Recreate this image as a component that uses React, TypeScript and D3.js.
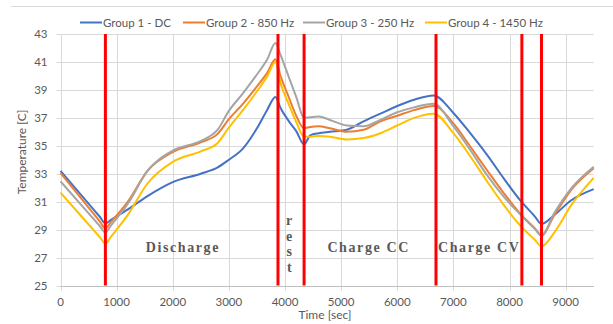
import React from "react";
import * as d3 from "d3";

// ---- data ----
const timeKnots = [0, 400, 700, 800, 900, 1200, 1550, 2000, 2500, 2800, 3000, 3250, 3500, 3680, 3830, 3920, 4070, 4200, 4340, 4450, 4600, 4800, 5100, 5400, 5700, 6000, 6300, 6650, 7000, 7300, 7600, 7900, 8200, 8450, 8570, 8800, 9100, 9500];

const group1DC = [33.2, 31.33, 29.92, 29.45, 29.7, 30.45, 31.4, 32.4, 33.0, 33.45, 34.0, 34.8, 36.25, 37.55, 38.5, 37.7, 36.75, 36.05, 35.1, 35.75, 35.9, 36.0, 36.15, 36.75, 37.3, 37.85, 38.3, 38.6, 37.35, 35.9, 34.35, 32.65, 31.05, 29.95, 29.4, 30.05, 31.1, 31.9];
const group2Hz850 = [33.05, 31.08, 29.59, 29.1, 29.55, 31.0, 33.2, 34.55, 35.25, 35.85, 36.9, 38.0, 39.25, 40.2, 41.2, 40.0, 38.45, 37.15, 36.25, 36.35, 36.4, 36.25, 36.0, 36.15, 36.75, 37.15, 37.55, 37.85, 36.6, 34.95, 33.25, 31.6, 30.1, 29.1, 28.6, 30.05, 31.85, 33.4];
const group3Hz250 = [32.45, 30.63, 29.26, 28.8, 29.3, 30.85, 33.2, 34.65, 35.35, 36.15, 37.5, 38.75, 40.1, 41.15, 42.35, 41.5, 39.9, 38.5, 37.0, 37.05, 37.1, 36.85, 36.45, 36.4, 36.85, 37.4, 37.75, 38.0, 36.4, 34.7, 32.9, 31.35, 30.05, 29.05, 28.55, 30.2, 31.95, 33.5];
const group4Hz1450 = [31.65, 29.83, 28.46, 28.0, 28.5, 30.05, 32.3, 33.85, 34.6, 35.2, 36.3, 37.55, 38.9, 39.95, 41.0, 39.5, 37.95, 36.7, 35.65, 35.65, 35.7, 35.65, 35.45, 35.55, 35.9, 36.45, 37.0, 37.3, 35.9, 34.25, 32.45, 30.75, 29.25, 28.27, 27.8, 28.8, 30.75, 32.7];

const seriesNames = ["Group 1 - DC", "Group 2 - 850 Hz", "Group 3 - 250 Hz", "Group 4 - 1450 Hz"];
const seriesValues = [group1DC, group2Hz850, group3Hz250, group4Hz1450];
const seriesColors = ["#4472C4", "#ED7D31", "#A5A5A5", "#FFC000"];

const phaseBoundaries = [800, 3875, 4340, 6690, 8220, 8570];
const phaseLabels = ["Discharge", "Charge CC", "Charge CV"];
const phaseLabelTimes = [2180, 5490, 7460];
const phaseLabelTemp = 27.4;
const restLetters = ["r", "e", "s", "t"];
const restTime = 4075;

const xTicks = [0, 1000, 2000, 3000, 4000, 5000, 6000, 7000, 8000, 9000];
const yTicks = [25, 27, 29, 31, 33, 35, 37, 39, 41, 43];

const W = 613;
const H = 324;

export default function App() {
  const x = d3.scaleLinear().domain([0, 9500]).range([60.5, 593.7]);
  const y = d3.scaleLinear().domain([25, 43]).range([285.5, 34]);

  const line = d3
    .line<number>()
    .x((_, i) => x(timeKnots[i]))
    .y((d) => y(d))
    .curve(d3.curveMonotoneX);

  const textColor = "#595959";
  const sans = "Lato, 'Open Sans', sans-serif";
  const serif = "'Liberation Serif', 'DejaVu Serif', serif";

  const legendX = [80, 183, 303, 425];

  return (
    <svg
      width={W}
      height={H}
      style={{ position: "absolute", left: 0, top: 0, background: "#fff" }}
    >
      <rect x={0} y={0} width={W} height={H} fill="#fff" />
      <line x1={11} x2={W} y1={6.5} y2={6.5} stroke="#d9d9d9" strokeWidth={1} />

      {/* gridlines */}
      {yTicks.map((t) => (
        <line key={"gy" + t} x1={x(0) - 4} x2={x(9500)} y1={Math.round(y(t)) + 0.5} y2={Math.round(y(t)) + 0.5} stroke="#d9d9d9" strokeWidth={1} />
      ))}
      {xTicks.map((t) => (
        <line key={"gx" + t} x1={Math.round(x(t)) + 0.5} x2={Math.round(x(t)) + 0.5} y1={y(43)} y2={y(25) + 5} stroke="#d9d9d9" strokeWidth={1} />
      ))}
      <line x1={Math.round(x(0)) + 0.5} x2={Math.round(x(0)) + 0.5} y1={y(43)} y2={y(25)} stroke="#d9d9d9" strokeWidth={1} />
      <line x1={x(0)} x2={x(9500)} y1={Math.round(y(25)) + 0.5} y2={Math.round(y(25)) + 0.5} stroke="#bfbfbf" strokeWidth={1} />

      {/* tick labels */}
      {yTicks.map((t) => (
        <text key={"ly" + t} x={x(0) - 13} y={y(t)} dy="0.35em" textAnchor="end" fontFamily={sans} fontSize={11.5} fill={textColor}>
          {t}
        </text>
      ))}
      {xTicks.map((t) => (
        <text key={"lx" + t} x={x(t)} y={y(25) + 20} textAnchor="middle" fontFamily={sans} fontSize={11.5} fill={textColor}>
          {t}
        </text>
      ))}

      {/* axis titles */}
      <text x={325} y={319} textAnchor="middle" fontFamily={sans} fontSize={12} fill={textColor}>
        Time [sec]
      </text>
      <text transform={`translate(26,152) rotate(-90)`} textAnchor="middle" fontFamily={sans} fontSize={12} fill={textColor}>
        Temperature [C]
      </text>

      {/* series */}
      {seriesValues.map((vals, i) => (
        <path key={"s" + i} d={line(vals) || ""} fill="none" stroke={seriesColors[i]} strokeWidth={2} strokeLinejoin="round" />
      ))}

      {/* phase boundaries */}
      {phaseBoundaries.map((t) => (
        <line key={"pb" + t} x1={x(t)} x2={x(t)} y1={y(43)} y2={y(25)} stroke="#FF0000" strokeWidth={3} />
      ))}

      {/* phase labels */}
      {phaseLabels.map((lab, i) => (
        <text key={lab} x={x(phaseLabelTimes[i])} y={y(phaseLabelTemp)} textAnchor="middle" fontFamily={serif} fontWeight="bold" fontSize={14} letterSpacing={1.6} fill={textColor}>
          {lab}
        </text>
      ))}
      {restLetters.map((c, i) => (
        <text key={"r" + i} x={x(restTime)} y={225 + i * 15.7} textAnchor="middle" fontFamily={serif} fontWeight="bold" fontSize={14} fill={textColor}>
          {c}
        </text>
      ))}

      {/* legend */}
      {seriesNames.map((n, i) => (
        <g key={"lg" + i}>
          <line x1={legendX[i]} x2={legendX[i] + 22} y1={22.5} y2={22.5} stroke={seriesColors[i]} strokeWidth={2} />
          <text x={legendX[i] + 23} y={22.5} dy="0.35em" fontFamily={sans} fontSize={11.5} fill={textColor}>
            {n}
          </text>
        </g>
      ))}
    </svg>
  );
}
